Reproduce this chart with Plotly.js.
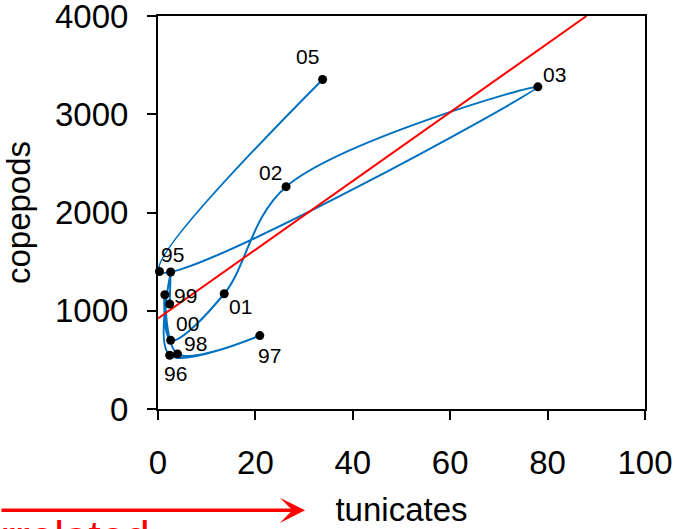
<!DOCTYPE html>
<html>
<head>
<meta charset="utf-8">
<script src="https://cdn.plot.ly/plotly-3.0.1.min.js"></script>
<style>html,body{margin:0;padding:0;background:#fff;}#chart{width:675px;height:529px;}</style>
</head>
<body>
<div id="chart"></div>
<script>
// Data (in time order along the trajectory)
const pointLabels = ['', '95', '96', '97', '98', '99', '00', '01', '02', '03', '', '05'];
const tunicates   = [2.4, 2.6, 2.4, 20.9, 4.0, 1.4, 2.6, 13.6, 26.3, 78.0, 0.3, 33.8];
const copepods    = [1069, 1394, 547, 747, 561, 1163, 699, 1173, 2263, 3279, 1400, 3354];
const xTicks = [0, 20, 40, 60, 80, 100];
const yTicks = [0, 1000, 2000, 3000, 4000];

// Label placement (pixel offsets from each point)
const labelShift = {
  '95': [2, 18], '96': [6, -18], '97': [10, -20], '98': [18, 10], '99': [21, -1],
  '00': [17, 17], '01': [16, -13], '02': [-16, 14], '03': [17, 12], '05': [-15, 23]
};

// Least-squares trendline computed from the data
const n = tunicates.length;
const mx = tunicates.reduce((a, b) => a + b, 0) / n;
const my = copepods.reduce((a, b) => a + b, 0) / n;
let sxy = 0, sxx = 0;
for (let i = 0; i < n; i++) { sxy += (tunicates[i] - mx) * (copepods[i] - my); sxx += (tunicates[i] - mx) ** 2; }
const slope = sxy / sxx, intercept = my - slope * mx;
const yMax = yTicks[yTicks.length - 1];
const xEnd = Math.min(xTicks[xTicks.length - 1], (yMax - intercept) / slope);
const trendX = [0, xEnd];
const trendY = trendX.map(x => intercept + slope * x);

const FONT = 'Liberation Sans, Arial, sans-serif';

const traces = [
  { x: tunicates, y: copepods, mode: 'lines', type: 'scatter',
    line: { color: '#0070C0', width: 2, shape: 'spline', smoothing: 1 },
    cliponaxis: false, hoverinfo: 'skip' },
  { x: trendX, y: trendY, mode: 'lines', type: 'scatter',
    line: { color: '#FF0000', width: 2 }, hoverinfo: 'skip' },
  { x: tunicates, y: copepods, mode: 'markers', type: 'scatter',
    marker: { color: '#000000', size: 9 }, cliponaxis: false }
];

const annotations = [];
pointLabels.forEach((lab, i) => {
  if (!lab) return;
  const s = labelShift[lab] || [0, 0];
  annotations.push({ x: tunicates[i], y: copepods[i], xref: 'x', yref: 'y', text: lab,
    showarrow: false, xshift: s[0], yshift: s[1],
    font: { family: FONT, size: 21, color: '#000' } });
});
// red arrow at the bottom
annotations.push({ xref: 'paper', yref: 'paper', x: 0.302, y: -0.2577, ax: -320, ay: 0,
  axref: 'pixel', ayref: 'pixel', text: '', showarrow: true,
  arrowcolor: '#FF0000', arrowwidth: 3.5, arrowhead: 3, arrowsize: 1.2 });
annotations.push({ xref: 'paper', yref: 'paper', x: -0.0113, y: -0.2565, xanchor: 'right', yanchor: 'top',
  text: 'correlated', showarrow: false, font: { family: FONT, size: 44, color: '#FF0000' } });

const layout = {
  width: 675, height: 529,
  margin: { l: 158, r: 30, t: 16, b: 120 },
  paper_bgcolor: '#fff', plot_bgcolor: '#fff',
  showlegend: false,
  font: { family: FONT, color: '#000' },
  xaxis: {
    range: [0, 100], tickvals: xTicks, ticktext: xTicks.map(String),
    showline: true, linecolor: '#000', linewidth: 2, mirror: true,
    ticks: 'outside', ticklen: 9, tickwidth: 2, tickcolor: '#000',
    showgrid: false, zeroline: false, ticklabelstandoff: 14, ticklabeloverflow: 'allow',
    tickfont: { family: FONT, size: 33, color: '#000' },
    title: { text: 'tunicates', font: { family: FONT, size: 33, color: '#000' }, standoff: 18 }
  },
  yaxis: {
    range: [0, 4000], tickvals: yTicks, ticktext: yTicks.map(String),
    showline: true, linecolor: '#000', linewidth: 2, mirror: true,
    ticks: 'outside', ticklen: 9, tickwidth: 2, tickcolor: '#000',
    showgrid: false, zeroline: false, ticklabelstandoff: 12, ticklabeloverflow: 'allow',
    tickfont: { family: FONT, size: 33, color: '#000' },
    title: { text: 'copepods', font: { family: FONT, size: 33, color: '#000' }, standoff: 16 }
  },
  annotations: annotations
};

Plotly.newPlot('chart', traces, layout, { staticPlot: true, displayModeBar: false });
</script>
</body>
</html>
